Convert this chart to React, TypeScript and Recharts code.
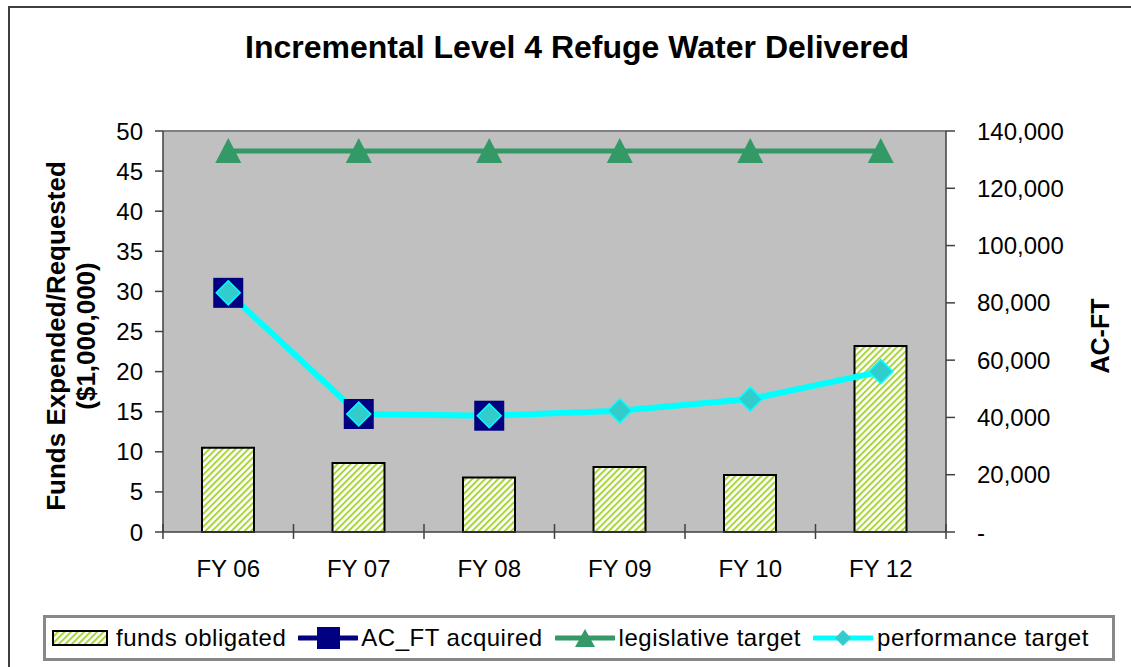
import React from 'react';
import { ComposedChart, Bar, Line, XAxis, YAxis, CartesianGrid, ReferenceLine } from 'recharts';

const categories = ['FY 06', 'FY 07', 'FY 08', 'FY 09', 'FY 10', 'FY 12'];
const fundsObligated = [10.5, 8.6, 6.8, 8.1, 7.1, 23.2];
const acFtAcquired: (number | null)[] = [83500, 41200, 40600, null, null, null];
const legislativeTarget = [133000, 133000, 133000, 133000, 133000, 133000];
const performanceTarget = [83500, 41200, 40600, 42300, 46400, 56000];
const leftTicks = [0, 5, 10, 15, 20, 25, 30, 35, 40, 45, 50];
const rightTicks = [0, 20000, 40000, 60000, 80000, 100000, 120000, 140000];

const data = categories.map((name, i) => ({
  name,
  funds: fundsObligated[i],
  acquired: acFtAcquired[i],
  legislative: legislativeTarget[i],
  performance: performanceTarget[i],
}));

const FONT = '"Liberation Sans", Arial, sans-serif';
const PLOT_LEFT = 163;
const PLOT_RIGHT = 946;
const HALF_BAND = (PLOT_RIGHT - PLOT_LEFT) / categories.length / 2;

const XTick = (props: any) => {
  const { x, y, payload, index } = props;
  return (
    <g>
      <line x1={x - HALF_BAND} x2={x - HALF_BAND} y1={y - 8} y2={y + 7} stroke="#404040" strokeWidth={1.5} />
      {index === categories.length - 1 && (
        <line x1={x + HALF_BAND} x2={x + HALF_BAND} y1={y - 8} y2={y + 7} stroke="#404040" strokeWidth={1.5} />
      )}
      <text x={x} y={y + 45} textAnchor="middle" fontSize={24} fontFamily={FONT} fill="#000">
        {payload.value}
      </text>
    </g>
  );
};

const Triangle = (props: any) => {
  const { cx, cy, index } = props;
  if (cx == null || cy == null) return <g key={`t${index}`} />;
  return <polygon key={`t${index}`} points={`${cx},${cy - 13} ${cx + 13},${cy + 12} ${cx - 13},${cy + 12}`} fill="#339966" />;
};

const Square = (props: any) => {
  const { cx, cy, index, value } = props;
  if (cx == null || cy == null || value == null) return <g key={`s${index}`} />;
  return <rect key={`s${index}`} x={cx - 15} y={cy - 15} width={30} height={30} fill="#000080" />;
};

const Diamond = (props: any) => {
  const { cx, cy, index } = props;
  if (cx == null || cy == null) return <g key={`d${index}`} />;
  return (
    <polygon
      key={`d${index}`}
      points={`${cx},${cy - 12} ${cx + 12},${cy} ${cx},${cy + 12} ${cx - 12},${cy}`}
      fill="#33CCCC"
      stroke="#00FFFF"
      strokeWidth={1.5}
    />
  );
};

const rightFormat = (v: number) => (v === 0 ? '-' : v.toLocaleString('en-US'));

const legendText: React.CSSProperties = { fontSize: 24, fontFamily: FONT, color: '#000', letterSpacing: 0.5, whiteSpace: 'nowrap' };

function LegendLine({ color, marker }: { color: string; marker: React.ReactNode }) {
  return (
    <svg width={60} height={30} style={{ display: 'block' }}>
      <line x1={1} x2={59} y1={15} y2={15} stroke={color} strokeWidth={5} strokeLinecap="round" />
      {marker}
    </svg>
  );
}

export default function App() {
  return (
    <div style={{ position: 'absolute', left: 0, top: 0, width: 1131, height: 667, background: '#fff', overflow: 'hidden' }}>
      <svg width={0} height={0} style={{ position: 'absolute' }}>
        <defs>
          <pattern id="hatch" patternUnits="userSpaceOnUse" width={4.6} height={4.6} patternTransform="rotate(45)">
            <rect width={4.6} height={4.6} fill="#ffffff" />
            <rect width={2} height={4.6} fill="#A9D53A" />
          </pattern>
        </defs>
      </svg>
      <div style={{ position: 'absolute', left: 8, top: 6, width: 1200, height: 800, border: '2px solid #404040' }} />
      <div
        style={{
          position: 'absolute', left: 0, width: 1154, top: 29, textAlign: 'center',
          fontFamily: FONT, fontWeight: 'bold', fontSize: 32, color: '#000',
        }}
      >
        Incremental Level 4 Refuge Water Delivered
      </div>
      <div
        style={{
          position: 'absolute', left: 71, top: 336, transform: 'translate(-50%, -50%) rotate(-90deg)',
          fontFamily: FONT, fontWeight: 'bold', fontSize: 26, lineHeight: '30px', textAlign: 'center', whiteSpace: 'nowrap',
        }}
      >
        Funds Expended/Requested
        <br />
        ($1,000,000)
      </div>
      <div
        style={{
          position: 'absolute', left: 1100, top: 336, transform: 'translate(-50%, -50%) rotate(-90deg)',
          fontFamily: FONT, fontWeight: 'bold', fontSize: 25, whiteSpace: 'nowrap',
        }}
      >
        AC-FT
      </div>
      <div style={{ position: 'absolute', left: 0, top: 0 }}>
        <ComposedChart width={1131} height={667} data={data} margin={{ top: 131, right: 0, left: 0, bottom: 0 }}>
          <CartesianGrid horizontal={false} vertical={false} fill="#C0C0C0" stroke="none" />
          <XAxis
            dataKey="name"
            height={135}
            tick={<XTick />}
            tickLine={false}
            tickSize={0}
            tickMargin={0}
            axisLine={{ stroke: '#404040', strokeWidth: 1.5 }}
            interval={0}
          />
          <YAxis
            yAxisId="left"
            width={163}
            domain={[0, 50]}
            ticks={leftTicks}
            interval={0}
            tickSize={8}
            tickMargin={12}
            tick={{ fontSize: 24, fontFamily: FONT, fill: '#000' }}
            tickLine={{ stroke: '#404040', strokeWidth: 1.5 }}
            axisLine={{ stroke: '#404040', strokeWidth: 1.5 }}
          />
          <YAxis
            yAxisId="right"
            orientation="right"
            width={185}
            domain={[0, 140000]}
            ticks={rightTicks}
            interval={0}
            tickSize={9}
            tickMargin={22}
            tickFormatter={rightFormat}
            tick={{ fontSize: 24, fontFamily: FONT, fill: '#000', textAnchor: 'start' }}
            tickLine={{ stroke: '#404040', strokeWidth: 1.5 }}
            axisLine={{ stroke: '#404040', strokeWidth: 1.5 }}
          />
          <ReferenceLine yAxisId="left" y={50} stroke="#808080" strokeWidth={2} />
          <Bar
            yAxisId="left"
            dataKey="funds"
            barSize={52}
            fill="url(#hatch)"
            stroke="#000"
            strokeWidth={2}
            isAnimationActive={false}
          />
          <Line
            yAxisId="right"
            dataKey="acquired"
            stroke="#000080"
            strokeWidth={4}
            dot={<Square />}
            activeDot={false}
            isAnimationActive={false}
          />
          <Line
            yAxisId="right"
            dataKey="legislative"
            stroke="#339966"
            strokeWidth={5}
            dot={<Triangle />}
            activeDot={false}
            isAnimationActive={false}
          />
          <Line
            yAxisId="right"
            dataKey="performance"
            stroke="#00FFFF"
            strokeWidth={6}
            dot={<Diamond />}
            activeDot={false}
            isAnimationActive={false}
          />
        </ComposedChart>
      </div>
      <div
        style={{
          position: 'absolute', left: 43, top: 615, width: 1060, height: 40,
          border: '3px solid #888', background: '#fff',
          display: 'flex', alignItems: 'center', paddingLeft: 6, boxSizing: 'content-box',
        }}
      >
        <svg width={56} height={16} style={{ display: 'block', marginRight: 8 }}>
          <rect x={1} y={1} width={54} height={14} fill="url(#hatch)" stroke="#000" strokeWidth={2} />
        </svg>
        <span style={legendText}>funds obligated</span>
        <div style={{ width: 12 }} />
        <LegendLine color="#000080" marker={<rect x={19} y={4} width={23} height={22} fill="#000080" />} />
        <span style={{ ...legendText, marginLeft: 3 }}>AC_FT acquired</span>
        <div style={{ width: 12 }} />
        <LegendLine color="#339966" marker={<polygon points="30,6 40,24 20,24" fill="#339966" />} />
        <span style={{ ...legendText, marginLeft: 4 }}>legislative target</span>
        <div style={{ width: 12 }} />
        <LegendLine color="#00FFFF" marker={<polygon points="30,7 38,15 30,23 22,15" fill="#33CCCC" />} />
        <span style={{ ...legendText, marginLeft: 4 }}>performance target</span>
      </div>
    </div>
  );
}
